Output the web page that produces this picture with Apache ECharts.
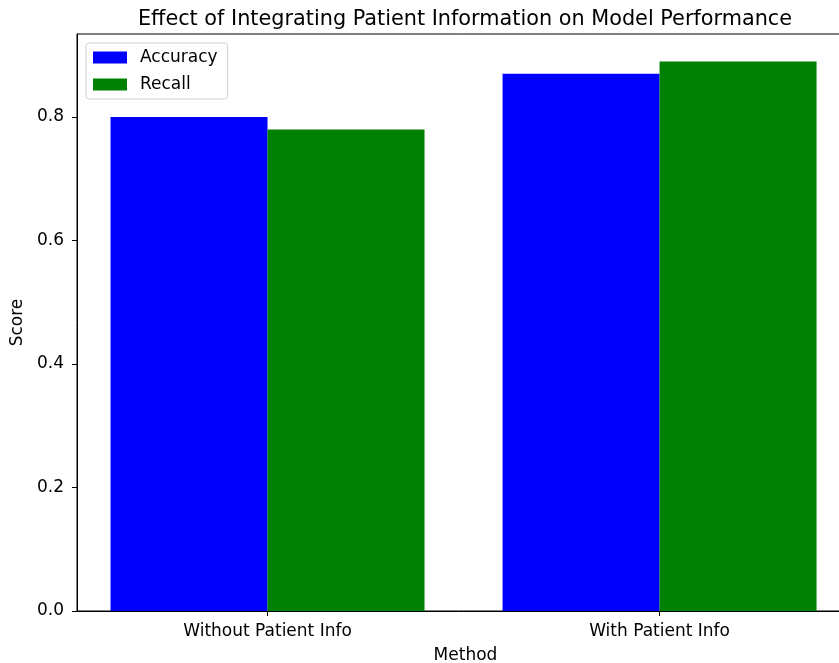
<!DOCTYPE html>
<html>
<head>
<meta charset="utf-8">
<script src="https://cdn.jsdelivr.net/npm/echarts@6/dist/echarts.min.js"></script>
<style>
  html, body { margin: 0; padding: 0; background: #fff; }
  #chart { width: 839px; height: 663px; }
</style>
</head>
<body>
<div id="chart"></div>
<script>
// Model scores with and without patient information
const categories = ['Without Patient Info', 'With Patient Info'];
const accuracy = [0.80, 0.87];
const recall = [0.78, 0.89];
const yTicks = [0, 0.2, 0.4, 0.6, 0.8];

const FONT = 'DejaVu Sans';
const chart = echarts.init(document.getElementById('chart'), null, { renderer: 'canvas' });

const toPoints = vals => vals.map((v, i) => [i, v]);

chart.setOption({
  animation: false,
  textStyle: { fontFamily: FONT, color: '#000' },
  title: {
    text: 'Effect of Integrating Patient Information on Model Performance',
    left: 460, top: 4, textAlign: 'center',
    textStyle: { fontFamily: FONT, fontSize: 20.8, fontWeight: 'normal', color: '#000' }
  },
  legend: {
    orient: 'vertical', left: 86, top: 43,
    padding: [6, 10, 6, 7],
    itemWidth: 34, itemHeight: 12, itemGap: 10,
    icon: 'rect',
    backgroundColor: '#fff',
    borderColor: '#d0d0d0', borderWidth: 1, borderRadius: 3,
    textStyle: { fontFamily: FONT, fontSize: 17, color: '#000', padding: [0, 0, 0, 8] },
    data: ['Accuracy', 'Recall']
  },
  grid: {
    left: 77, top: 34, width: 777, height: 577,
    outerBoundsMode: 'none', containLabel: false,
    show: true, borderColor: '#000', borderWidth: 1, backgroundColor: 'transparent'
  },
  xAxis: {
    type: 'value', min: -0.486, max: 1.496,
    name: 'Method', nameLocation: 'middle', nameGap: 36,
    nameTextStyle: { fontFamily: FONT, fontSize: 17, color: '#000' },
    axisLine: { show: true, onZero: false, lineStyle: { color: '#000', width: 1 } },
    axisTick: { show: true, inside: false, length: 5, customValues: [0, 1], lineStyle: { color: '#000' } },
    axisLabel: {
      customValues: [0, 1], margin: 12,
      fontFamily: FONT, fontSize: 17, color: '#000',
      formatter: v => categories[Math.round(v)] || ''
    },
    splitLine: { show: false }
  },
  yAxis: {
    type: 'value', min: 0, max: 0.9345,
    name: 'Score', nameLocation: 'middle', nameGap: 44,
    nameTextStyle: { fontFamily: FONT, fontSize: 17, color: '#000' },
    axisLine: { show: true, onZero: false, lineStyle: { color: '#000', width: 1 } },
    axisTick: { show: true, inside: false, length: 5, customValues: yTicks, lineStyle: { color: '#000' } },
    axisLabel: {
      customValues: yTicks, margin: 13,
      fontFamily: FONT, fontSize: 17, color: '#000',
      formatter: v => v.toFixed(1)
    },
    splitLine: { show: false }
  },
  series: [
    {
      name: 'Accuracy', type: 'bar', data: toPoints(accuracy),
      barWidth: 157, barGap: '0%',
      itemStyle: { color: '#0000ff' }
    },
    {
      name: 'Recall', type: 'bar', data: toPoints(recall),
      barWidth: 157, barGap: '0%',
      itemStyle: { color: '#008000' }
    }
  ]
});
</script>
</body>
</html>
